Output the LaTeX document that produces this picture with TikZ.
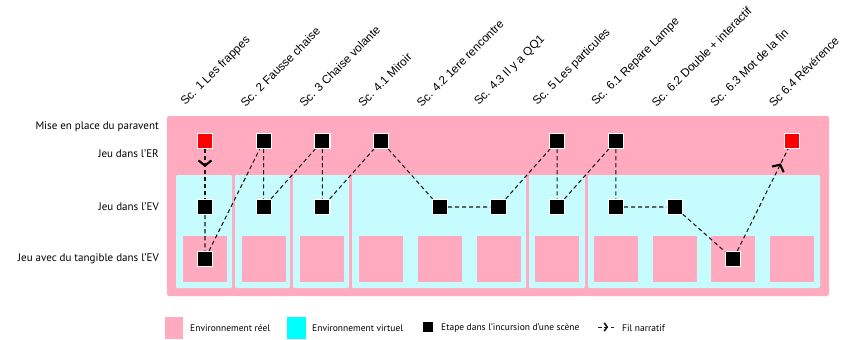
\documentclass[tikz,border=0pt]{standalone}
\usepackage{fontspec}
\setmainfont{Liberation Sans}
\newfontfamily\rowfont{PT Sans}
\usetikzlibrary{calc,arrows.meta,decorations.markings}

\definecolor{reel}{HTML}{FFAABF}
\definecolor{virtuel}{HTML}{C6FCFD}
\definecolor{virtuelvif}{HTML}{00FFFF}
\definecolor{rouge}{HTML}{FF0000}

\tikzset{
  etape/.style={rectangle, draw=white, fill=black, line width=0.9pt, minimum size=13, inner sep=0pt},
  etaperouge/.style={etape, fill=rouge},
  fil/.style={dashed, dash pattern=on 3.5 off 2.5, line width=0.9pt, black!90},
  fleche/.style={postaction=decorate, decoration={markings,
      mark=at position #1 with {\arrow[solid, line width=1.8pt, black]{Straight Barb[length=4.5, width=11]}}}},
  sclabel/.style={anchor=south west, rotate=45, inner sep=0pt, font=\fontsize{10}{12}\selectfont},
  rowlabel/.style={anchor=east, inner sep=0pt, font=\rowfont\fontsize{9.4}{11}\selectfont},
  leglabel/.style={anchor=west, inner sep=0pt, font=\rowfont\fontsize{8.1}{9}\selectfont}
}

\begin{document}
\begin{tikzpicture}[x=0.03cm, y=-0.03cm]
  \useasboundingbox (0,0) rectangle (844,340);

  % rows and columns
  \coordinate (rowT) at (0,141);
  \coordinate (rowV) at (0,207);
  \coordinate (rowG) at (0,259);
  \foreach \i in {1,...,11}
    \coordinate (c\i) at ({205+58.7*(\i-1)},0);

  % real environment
  \fill[reel, rounded corners=2] (167,116) rectangle (829,296);

  % virtual environment, one panel per scene
  \foreach \a/\b in {176/232, 235/290, 293/349, 352/526, 529/585, 588/820}
    \fill[virtuel, rounded corners=1] (\a,175) rectangle (\b,288);

  % tangible zones
  \foreach \i in {1,...,11}
    \fill[reel] ($(c\i |- rowG)+(-22,-23)$) rectangle ($(c\i |- rowG)+(22,23)$);

  % scene titles
  \foreach \i/\t in {1/Sc. 1 Les frappes, 2/Sc. 2 Fausse chaise, 3/Sc. 3 Chaise volante,
      4/Sc. 4.1 Miroir, 5/Sc. 4.2 1ere rencontre, 6/Sc. 4.3 Il y a QQ1,
      7/Sc. 5 Les particules, 8/Sc. 6.1 Repare Lampe, 9/Sc. 6.2 Double + interactif,
      10/Sc. 6.3 Mot de la fin, 11/Sc 6.4 Révérence}
    \node[sclabel] (sc\i) at ($(c\i)+(-18,108)$) {\t};

  % row titles
  \node[rowlabel] (lmise) at (159,127) {Mise en place du paravent};
  \node[rowlabel] (ler) at (159,154) {Jeu dans l’ER};
  \node[rowlabel] (lev) at (159,207) {Jeu dans l’EV};
  \node[rowlabel] (ltang) at (159,259) {Jeu avec du tangible dans l’EV};

  % steps
  \node[etaperouge] (t1) at (c1 |- rowT) {};
  \node[etape] (v1) at (c1 |- rowV) {};
  \node[etape] (g1) at (c1 |- rowG) {};
  \node[etape] (t2) at (c2 |- rowT) {};
  \node[etape] (v2) at (c2 |- rowV) {};
  \node[etape] (t3) at (c3 |- rowT) {};
  \node[etape] (v3) at (c3 |- rowV) {};
  \node[etape] (t4) at (c4 |- rowT) {};
  \node[etape] (v5) at (c5 |- rowV) {};
  \node[etape] (v6) at (c6 |- rowV) {};
  \node[etape] (t7) at (c7 |- rowT) {};
  \node[etape] (v7) at (c7 |- rowV) {};
  \node[etape] (t8) at (c8 |- rowT) {};
  \node[etape] (v8) at (c8 |- rowV) {};
  \node[etape] (v9) at (c9 |- rowV) {};
  \node[etape] (g10) at (c10 |- rowG) {};
  \node[etaperouge] (t11) at (c11 |- rowT) {};

  % narrative thread
  \draw[fil, fleche=0.36] (t1) -- (v1);
  \draw[fil] (v1) -- (g1) -- (t2) -- (v2) -- (t3) -- (v3) -- (t4) -- (v5) -- (v6)
    -- (t7) -- (v7) -- (t8) -- (v8) -- (v9) -- (g10);
  \draw[fil, fleche=0.86] (g10) -- (t11);

  % legend
  \fill[reel] (165,317) rectangle (183,339);
  \node[leglabel] (lreel) at (190,328) {Environnement réel};
  \fill[virtuelvif] (287,317) rectangle (306,339);
  \node[leglabel] (lvirt) at (312,328) {Environnement virtuel};
  \node[etape, draw=none, minimum width=8, minimum height=9] (letape) at (428,327) {};
  \node[leglabel] (lpas) at (441,328) {Etape dans l’incursion d’une scène};
  \coordinate (fa) at (598,327);
  \coordinate (fb) at (615,327);
  \draw[fil, line width=0.8pt, dash pattern=on 3 off 2.5,
    postaction=decorate, decoration={markings, mark=at position 0.6 with
    {\arrow[solid, line width=1.4pt]{Straight Barb[length=2.5, width=7]}}}] (fa) -- (fb);
  \node[leglabel] (lfil) at (622,328) {Fil narratif};
\end{tikzpicture}
\end{document}
